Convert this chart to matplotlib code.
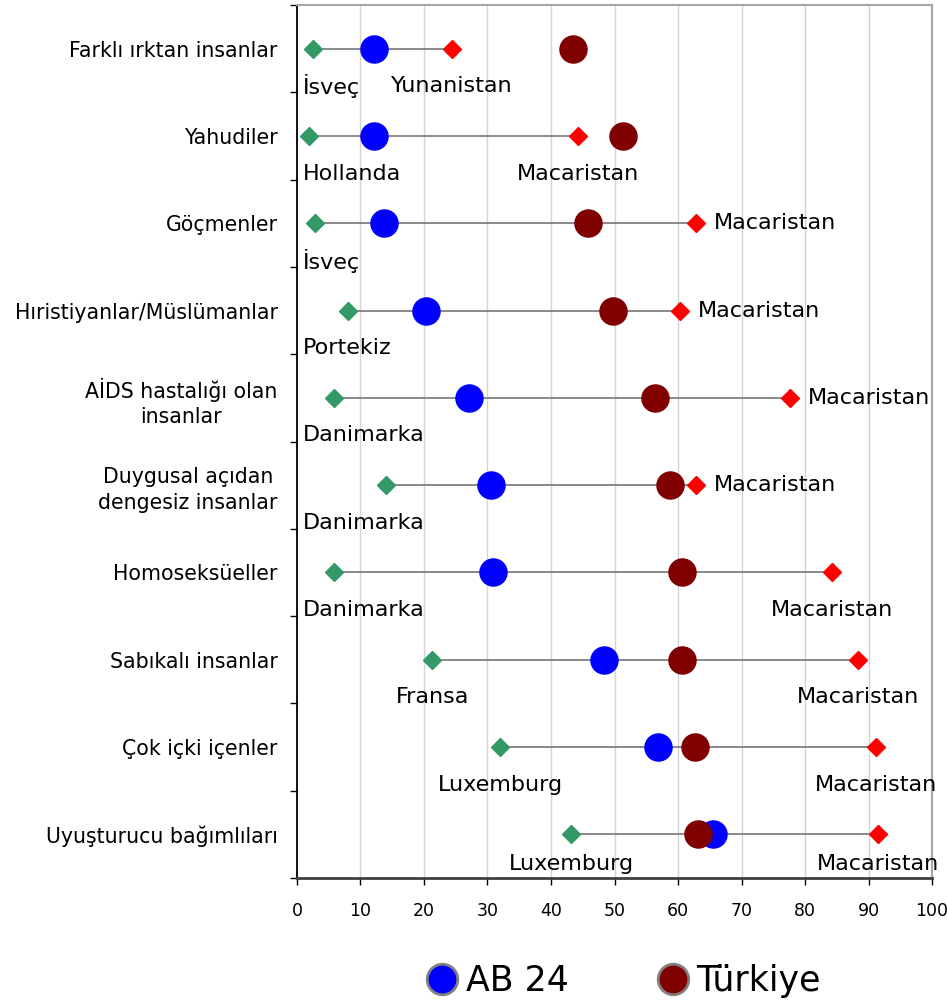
import matplotlib
matplotlib.use('Agg')
import matplotlib.pyplot as plt
from matplotlib.lines import Line2D
import numpy as np

categories = ["Farklı ırktan insanlar", "Yahudiler", "Göçmenler",
              "Hıristiyanlar/Müslümanlar", "AİDS hastalığı olan\ninsanlar",
              "Duygusal açıdan\ndengesiz insanlar", "Homoseksüeller",
              "Sabıkalı insanlar", "Çok içki içenler", "Uyuşturucu bağımlıları"]
min_values = [2.5, 1.9, 2.8, 8.0, 5.8, 14.0, 5.8, 21.3, 32.0, 43.2]
min_countries = ["İsveç", "Hollanda", "İsveç", "Portekiz", "Danimarka",
                 "Danimarka", "Danimarka", "Fransa", "Luxemburg", "Luxemburg"]
max_values = [24.4, 44.3, 62.8, 60.3, 77.6, 62.8, 84.2, 88.3, 91.2, 91.5]
max_countries = ["Yunanistan", "Macaristan", "Macaristan", "Macaristan",
                 "Macaristan", "Macaristan", "Macaristan", "Macaristan",
                 "Macaristan", "Macaristan"]
ab24 = [12.1, 12.1, 13.7, 20.3, 27.1, 30.6, 30.9, 48.3, 56.8, 65.5]
turkiye = [43.5, 51.3, 45.9, 49.8, 56.3, 58.8, 60.6, 60.6, 62.6, 63.1]
x_ticks = list(range(0, 101, 10))
series_names = ["AB 24", "Türkiye"]

# label placement style for max labels
max_place = ["below", "below", "right", "right", "right", "right",
             "below", "below", "below", "below"]

BLUE = '#0000ff'
DARK = '#800000'
GREEN = '#339966'
RED = '#ff0000'

fig = plt.figure(figsize=(9.47, 10.06), dpi=100)
ax = fig.add_axes([0.3136, 0.1272, 0.6706, 0.8678])

n = len(categories)
rows = np.arange(n)
ax.set_xlim(0, 100)
ax.set_ylim(n - 0.5, -0.5)

# grid
ax.set_xticks(x_ticks)
ax.xaxis.grid(True, color='#d4d4d4', lw=1)
ax.set_axisbelow(True)

ax.hlines(rows, min_values, max_values, color='#808080', lw=1.3, zorder=2)
ax.plot(ab24, rows, 'o', ls='none', ms=19.5, color=BLUE, zorder=3)
ax.plot(turkiye, rows, 'o', ls='none', ms=19.5, color=DARK, zorder=4)
ax.plot(min_values, rows, 'D', ls='none', ms=9, color=GREEN, zorder=5)
ax.plot(max_values, rows, 'D', ls='none', ms=9, color=RED, zorder=5)

lab_fs = 16
for i in range(n):
    below = min(0.43, (n - 0.5) - rows[i] - 0.16)
    if min_values[i] < 15:
        ax.text(1.0, rows[i] + below, min_countries[i], ha='left', va='center',
                fontsize=lab_fs, zorder=6)
    else:
        ax.text(min_values[i], rows[i] + below, min_countries[i], ha='center',
                va='center', fontsize=lab_fs, zorder=6)
    if max_place[i] == 'right':
        ax.annotate(max_countries[i], (max_values[i], rows[i]),
                    xytext=(13, 0), textcoords='offset points',
                    ha='left', va='center', fontsize=lab_fs, zorder=6,
                    annotation_clip=False)
    else:
        ax.text(max_values[i], rows[i] + below, max_countries[i], ha='center',
                va='center', fontsize=lab_fs, zorder=6, clip_on=False)

# y axis ticks
ax.set_yticks(np.arange(-0.5, n, 1.0))
ax.set_yticklabels([])
ax.set_yticks(rows, labels=categories, minor=True)
ax.tick_params(axis='y', which='minor', length=0, pad=14, labelsize=14.8)
ax.tick_params(axis='y', which='major', length=5, width=1, direction='out')
for t in ax.get_yticklabels(minor=True):
    t.set_multialignment('center')
    t.set_linespacing(1.35)

ax.tick_params(axis='x', which='major', length=5, width=1, direction='out',
               labelsize=12.5, pad=12)

for s in ['top', 'right']:
    ax.spines[s].set_color('#a6a6a6')
    ax.spines[s].set_linewidth(1.5)
ax.spines['left'].set_color('#000000')
ax.spines['left'].set_linewidth(1.3)
ax.spines['bottom'].set_color('#404040')
ax.spines['bottom'].set_linewidth(2)

handles = [Line2D([], [], marker='o', ls='none', ms=22, mfc=BLUE, mec='#808080',
                  mew=2, label=series_names[0]),
           Line2D([], [], marker='o', ls='none', ms=22, mfc=DARK, mec='#808080',
                  mew=2, label=series_names[1])]
fig.legend(handles=handles, ncol=2, loc='center',
           bbox_to_anchor=(0.6584, 1 - 981 / 1006), frameon=False, fontsize=25,
           handletextpad=0.23, columnspacing=2.55, handlelength=0.9)

fig.savefig('out.png', dpi=100)
